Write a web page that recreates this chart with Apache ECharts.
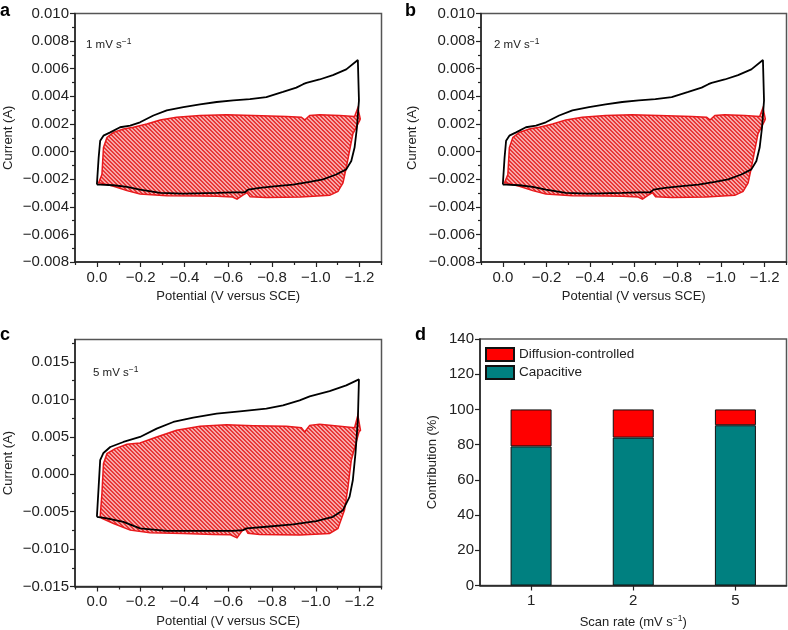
<!DOCTYPE html>
<html>
<head>
<meta charset="utf-8">
<script src="https://cdn.jsdelivr.net/npm/echarts@6/dist/echarts.min.js"></script>
<style>
  html, body { margin: 0; padding: 0; background: #fff; }
  #chart { width: 788px; height: 630px; }
</style>
</head>
<body>
<div id="chart"></div>
<script>
// tick labels
const potentialTicks = [0, -0.2, -0.4, -0.6, -0.8, -1.0, -1.2];
const potentialMinor = [0.1, -0.1, -0.3, -0.5, -0.7, -0.9, -1.1, -1.3];
const currentTicks5 = [-0.015, -0.01, -0.005, 0, 0.005, 0.01, 0.015];
const currentMinor5 = [-0.0125, -0.0075, -0.0025, 0.0025, 0.0075, 0.0125, 0.0175];

// CV loops [potential (V), current (A)] – 1 mV/s (panel b shows the same curves)
const cvBlack1 = [
  [0, -0.00239], [-0.008, -0.00044], [-0.015, 0.00078], [-0.03, 0.00115], [-0.061, 0.00139],
  [-0.106, 0.00176], [-0.152, 0.00188], [-0.197, 0.00212], [-0.258, 0.00261], [-0.319, 0.00298],
  [-0.395, 0.00322], [-0.471, 0.00341], [-0.547, 0.00359], [-0.623, 0.00371], [-0.699, 0.0038],
  [-0.774, 0.00395], [-0.85, 0.00432], [-0.911, 0.00463], [-0.942, 0.00488], [-0.957, 0.00498],
  [-1.017, 0.00522], [-1.078, 0.00554], [-1.139, 0.00595], [-1.192, 0.00663], [-1.2, 0.00668],
  [-1.197, 0.0037], [-1.188, 0.00176], [-1.177, 0.00029], [-1.162, -0.00068], [-1.139, -0.00129],
  [-1.093, -0.00166], [-1.033, -0.00202], [-0.972, -0.0022], [-0.896, -0.00239], [-0.82, -0.00251],
  [-0.744, -0.00263], [-0.691, -0.00276], [-0.676, -0.00295], [-0.623, -0.00295], [-0.547, -0.003],
  [-0.395, -0.00305], [-0.289, -0.003], [-0.197, -0.00276], [-0.137, -0.00256], [-0.076, -0.00244],
  [-0.015, -0.00239], [0, -0.00239]
];
const cvRed1 = [
  [-0.008, -0.00227], [-0.023, -0.00166], [-0.03, 0.00029], [-0.046, 0.00102], [-0.076, 0.00139],
  [-0.121, 0.00163], [-0.167, 0.00176], [-0.228, 0.002], [-0.289, 0.00229], [-0.364, 0.00249],
  [-0.471, 0.00261], [-0.592, 0.00266], [-0.714, 0.00261], [-0.866, 0.00254], [-0.934, 0.00249],
  [-0.949, 0.00229], [-0.972, 0.00261], [-1.017, 0.00266], [-1.109, 0.00261], [-1.177, 0.00254],
  [-1.192, 0.00317], [-1.203, 0.00237], [-1.2, 0.00224], [-1.169, 0.00127], [-1.154, 0.00005],
  [-1.139, -0.00117], [-1.124, -0.00227], [-1.101, -0.00288], [-1.063, -0.00317], [-0.93, -0.00329],
  [-0.774, -0.00332], [-0.7, -0.00328], [-0.686, -0.00298], [-0.665, -0.00318], [-0.64, -0.00345],
  [-0.62, -0.0033], [-0.55, -0.00324], [-0.471, -0.00322], [-0.319, -0.0032], [-0.197, -0.00307],
  [-0.137, -0.00283], [-0.076, -0.00251], [-0.015, -0.00227]
];
const cvBlack2 = cvBlack1;
const cvRed2 = cvRed1;

// 5 mV/s
const cvBlack5 = [
  [0, -0.00569], [-0.008, -0.00169], [-0.015, 0.00187], [-0.03, 0.00284], [-0.061, 0.00364],
  [-0.121, 0.00431], [-0.197, 0.00498], [-0.273, 0.00609], [-0.349, 0.00698], [-0.44, 0.00756],
  [-0.547, 0.00809], [-0.653, 0.0084], [-0.774, 0.00876], [-0.85, 0.0092], [-0.926, 0.00987],
  [-0.972, 0.0104], [-1.063, 0.01111], [-1.139, 0.01187], [-1.197, 0.01267], [-1.2, 0.01262],
  [-1.192, 0.0072], [-1.181, 0.00276], [-1.169, -0.0008], [-1.154, -0.00302], [-1.124, -0.0048],
  [-1.078, -0.00569], [-1.002, -0.00627], [-0.896, -0.00671], [-0.774, -0.00702], [-0.684, -0.00724],
  [-0.668, -0.00747], [-0.623, -0.00756], [-0.471, -0.00756], [-0.319, -0.00756], [-0.197, -0.00724],
  [-0.121, -0.00636], [-0.046, -0.00591], [0, -0.00569]
];
const cvRed5 = [
  [-0.015, -0.00569], [-0.023, -0.00258], [-0.03, 0.00142], [-0.046, 0.00276], [-0.084, 0.00342],
  [-0.137, 0.004], [-0.197, 0.00418], [-0.273, 0.00498], [-0.364, 0.00587], [-0.471, 0.0064],
  [-0.592, 0.00662], [-0.714, 0.00649], [-0.866, 0.0064], [-0.934, 0.00622], [-0.949, 0.00564],
  [-0.972, 0.00653], [-1.017, 0.00667], [-1.109, 0.0064], [-1.177, 0.00622], [-1.192, 0.00787],
  [-1.204, 0.00587], [-1.197, 0.00564], [-1.162, 0.00187], [-1.147, -0.00169], [-1.131, -0.0048],
  [-1.101, -0.00724], [-1.063, -0.00791], [-0.926, -0.00813], [-0.744, -0.00804], [-0.69, -0.0079],
  [-0.676, -0.0072], [-0.66, -0.0077], [-0.64, -0.0085], [-0.61, -0.0081], [-0.532, -0.00805],
  [-0.395, -0.00791], [-0.243, -0.00782], [-0.152, -0.00747], [-0.076, -0.00658], [-0.023, -0.00591]
];

// panel d
const scanRates = ['1', '2', '5'];
const capacitive = [79, 84, 91];
const diffusion = [21, 16, 9];

const FONT = '"Liberation Sans", Arial, Helvetica, sans-serif';
const INK = '#222';
const SUP = { sup: { fontSize: 8.5, padding: [0, 0, 7, 0], color: INK, fontFamily: FONT } };

function minus(s) { return s.replace('-', '\u2212'); }
function fmtV(v) { return Math.abs(v) < 1e-9 ? '0.0' : minus(v.toFixed(1)); }
function fmtA(v) { return Math.abs(v) < 1e-9 ? '0.000' : minus(v.toFixed(3)); }

// diagonal hatch for the capacitive region
function makeHatch() {
  const c = document.createElement('canvas');
  c.width = 4; c.height = 4;
  const ctx = c.getContext('2d');
  ctx.fillStyle = '#f7a8a8';
  ctx.fillRect(0, 0, 4, 4);
  ctx.fillStyle = '#e83838';
  for (let i = 0; i < 4; i++) {
    ctx.fillRect(i, i, 1, 1);
    ctx.fillRect((i + 1) % 4, i, 1, 1);
  }
  return c;
}
const hatch = makeHatch();

const axisLine = { show: true, onZero: false, lineStyle: { color: INK, width: 1.5 } };
const noLine = { show: false, onZero: false };
const tickStyle = { color: INK, width: 1.2 };

function potentialAxes(g) {
  return [
    {
      type: 'value', gridIndex: g, position: 'bottom', min: -1.3, max: 0.1, inverse: true,
      axisLine: axisLine,
      axisTick: { show: true, customValues: potentialTicks, length: 5, lineStyle: tickStyle },
      axisLabel: { customValues: potentialTicks, formatter: fmtV, fontSize: 15, color: INK, margin: 8 },
      splitLine: { show: false },
      name: 'Potential (V versus SCE)', nameLocation: 'middle', nameGap: 28,
      nameTextStyle: { fontSize: 13, color: INK }
    },
    {
      // minor ticks only
      type: 'value', gridIndex: g, position: 'bottom', min: -1.3, max: 0.1, inverse: true,
      axisLine: noLine,
      axisTick: { show: true, customValues: potentialMinor, length: 3, lineStyle: tickStyle },
      axisLabel: { show: false },
      splitLine: { show: false }
    }
  ];
}

function currentAxisLow(g, gap) {
  return {
    type: 'value', gridIndex: g, position: 'left', min: -0.008, max: 0.010, interval: 0.002,
    axisLine: axisLine,
    axisTick: { show: true, length: 5, lineStyle: tickStyle },
    minorTick: { show: true, splitNumber: 2, length: 3, lineStyle: tickStyle },
    axisLabel: { formatter: fmtA, fontSize: 15, color: INK, margin: 6 },
    splitLine: { show: false },
    name: 'Current (A)', nameLocation: 'middle', nameGap: gap,
    nameTextStyle: { fontSize: 13, color: INK }
  };
}

function cvPolygon(points, xi, yi) {
  return {
    type: 'custom', xAxisIndex: xi, yAxisIndex: yi, data: points, silent: true, z: 2,
    renderItem: function (params, api) {
      if (params.dataIndex !== 0) return null;
      return {
        type: 'polygon',
        shape: { points: points.map(p => api.coord(p)) },
        style: { fill: { image: hatch, repeat: 'repeat' }, stroke: '#e8191c', lineWidth: 1.5 }
      };
    }
  };
}

function cvLine(points, xi, yi) {
  return {
    type: 'line', xAxisIndex: xi, yAxisIndex: yi, data: points, showSymbol: false, silent: true, z: 3,
    lineStyle: { color: '#000', width: 1.8 }
  };
}

function panelText(txt, left, top) {
  return {
    text: txt, left: left, top: top, padding: 0,
    textStyle: { fontSize: 11.5, fontWeight: 'normal', color: INK, fontFamily: FONT, rich: SUP }
  };
}
function panelLetter(txt, left, top) {
  return {
    text: txt, left: left, top: top, padding: 0,
    textStyle: { fontSize: 18, fontWeight: 'bold', color: '#000', fontFamily: FONT }
  };
}

const frame = { show: true, borderColor: '#555', borderWidth: 1.5, backgroundColor: 'transparent' };

const option = {
  animation: false,
  backgroundColor: '#fff',
  textStyle: { fontFamily: FONT },
  title: [
    panelLetter('a', 0, 2), panelLetter('b', 405, 2),
    panelLetter('c', 0, 326), panelLetter('d', 415, 326),
    panelText('1 mV s{sup|\u22121}', 86, 37),
    panelText('2 mV s{sup|\u22121}', 494, 37),
    panelText('5 mV s{sup|\u22121}', 93, 365)
  ],
  legend: {
    data: ['Diffusion-controlled', 'Capacitive'],
    left: 480, top: 342, orient: 'vertical', icon: 'rect',
    itemWidth: 28, itemHeight: 13, itemGap: 3, selectedMode: false,
    textStyle: { fontSize: 13.5, color: INK }
  },
  grid: [
    Object.assign({ left: 75, top: 13.5, width: 306.5, height: 248.5 }, frame),
    Object.assign({ left: 481, top: 13.5, width: 305.5, height: 248.5 }, frame),
    Object.assign({ left: 75, top: 339.5, width: 306.5, height: 247 }, frame),
    Object.assign({ left: 480, top: 339, width: 306.5, height: 247.5 }, frame)
  ],
  xAxis: [
    ...potentialAxes(0),
    ...potentialAxes(1),
    ...potentialAxes(2),
    {
      type: 'category', gridIndex: 3, position: 'bottom', data: scanRates,
      axisLine: axisLine,
      axisTick: { show: true, alignWithLabel: true, length: 5, lineStyle: tickStyle },
      axisLabel: { fontSize: 15, color: INK, margin: 8 },
      name: 'Scan rate (mV s{sup|\u22121})', nameLocation: 'middle', nameGap: 29,
      nameTextStyle: { fontSize: 13, color: INK, rich: SUP }
    }
  ],
  yAxis: [
    currentAxisLow(0, 60),
    currentAxisLow(1, 62),
    {
      type: 'value', gridIndex: 2, position: 'left', min: -0.015, max: 0.018,
      axisLine: axisLine,
      axisTick: { show: true, customValues: currentTicks5, length: 5, lineStyle: tickStyle },
      axisLabel: { customValues: currentTicks5, formatter: fmtA, fontSize: 15, color: INK, margin: 6 },
      splitLine: { show: false },
      name: 'Current (A)', nameLocation: 'middle', nameGap: 60,
      nameTextStyle: { fontSize: 13, color: INK }
    },
    {
      // minor ticks only
      type: 'value', gridIndex: 2, position: 'left', min: -0.015, max: 0.018,
      axisLine: noLine,
      axisTick: { show: true, customValues: currentMinor5, length: 3, lineStyle: tickStyle },
      axisLabel: { show: false },
      splitLine: { show: false }
    },
    {
      type: 'value', gridIndex: 3, position: 'left', min: 0, max: 140, interval: 20,
      axisLine: axisLine,
      axisTick: { show: true, length: 5, lineStyle: tickStyle },
      axisLabel: { fontSize: 15, color: INK, margin: 6 },
      splitLine: { show: false },
      name: 'Contribution (%)', nameLocation: 'middle', nameGap: 41,
      nameTextStyle: { fontSize: 13, color: INK }
    }
  ],
  series: [
    cvPolygon(cvRed1, 0, 0), cvLine(cvBlack1, 0, 0),
    cvPolygon(cvRed2, 2, 1), cvLine(cvBlack2, 2, 1),
    cvPolygon(cvRed5, 4, 2), cvLine(cvBlack5, 4, 2),
    {
      name: 'Capacitive', type: 'bar', xAxisIndex: 6, yAxisIndex: 4, stack: 'total',
      data: capacitive, barWidth: 41,
      itemStyle: { color: '#008080', borderColor: '#111', borderWidth: 1 }
    },
    {
      name: 'Diffusion-controlled', type: 'bar', xAxisIndex: 6, yAxisIndex: 4, stack: 'total',
      data: diffusion, barWidth: 41,
      itemStyle: { color: '#ff0000', borderColor: '#111', borderWidth: 1 }
    }
  ]
};

const chart = echarts.init(document.getElementById('chart'));
chart.setOption(option);
</script>
</body>
</html>
